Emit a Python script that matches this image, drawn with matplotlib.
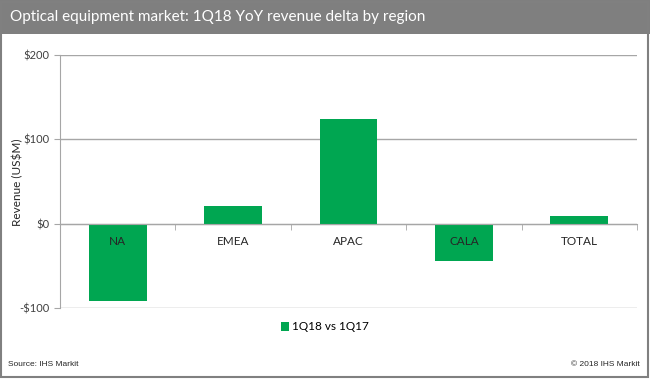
import matplotlib.pyplot as plt
from matplotlib.patches import Rectangle
from matplotlib.ticker import FuncFormatter, FixedLocator

regions = ["NA", "EMEA", "APAC", "CALA", "TOTAL"]
delta = [-92, 21, 124, -44, 9]
series_name = "1Q18 vs 1Q17"

green = "#00a651"
grey = "#a6a6a6"

fig = plt.figure(figsize=(6.5, 3.79), dpi=100)

# title bar and border
fig.patches.append(Rectangle((0, 1 - 34 / 379), 1, 34 / 379, transform=fig.transFigure,
                             facecolor="#7f7f7f", edgecolor="none", zorder=0))
fig.patches.append(Rectangle((0.002, 0.004), 0.995, 0.99, transform=fig.transFigure,
                             facecolor="none", edgecolor="#808080", lw=1.5, zorder=1))
fig.text(10 / 650, 1 - 17 / 379, "Optical equipment market: 1Q18 YoY revenue delta by region",
         color="white", fontsize=11, family="Lato", va="center", ha="left")

ax = fig.add_axes([60 / 650, 1 - 308 / 379, 577 / 650, 253 / 379])
x = range(len(regions))
ax.bar(x, delta, width=0.5, color=green, label=series_name, zorder=3)

ax.set_ylim(-100, 200)
ax.set_xlim(-0.5, len(regions) - 0.5)
ax.set_yticks([-100, 0, 100, 200])
ax.yaxis.set_major_formatter(FuncFormatter(lambda v, p: ("-$%d" % abs(v)) if v < 0 else "$%d" % v))
ax.grid(axis="y", color=grey, lw=1, zorder=0)
ax.tick_params(axis="y", length=4, color=grey, labelsize=8, labelcolor="#404040")
for lab in ax.get_yticklabels():
    lab.set_family("Lato")

ax.spines["bottom"].set_position(("data", 0))
ax.spines["bottom"].set_color(grey)
ax.spines["bottom"].set_zorder(4)
ax.spines["left"].set_color(grey)
ax.spines["top"].set_visible(False)
ax.spines["right"].set_visible(False)
ax.set_xticks(list(x))
ax.set_xticklabels(regions, fontsize=8.5, family="Lato", color="#262626")
ax.tick_params(axis="x", which="major", length=0, pad=9)
ax.xaxis.set_minor_locator(FixedLocator([i + 0.5 for i in range(-1, len(regions))]))
ax.tick_params(axis="x", which="minor", length=4, color=grey)
ax.xaxis.set_zorder(5)

fig.text(18 / 650, 1 - 182 / 379, "Revenue (US$M)", fontsize=8.5, family="Lato",
         color="#262626", rotation=90, va="center", ha="center")

fig.legend(loc="center", bbox_to_anchor=(0.5, 1 - 327 / 379), frameon=False,
           prop={"family": "Lato", "size": 8.5}, handlelength=0.7, handleheight=0.7,
           handletextpad=0.3)

fig.text(8 / 650, 1 - 364 / 379, "Source: IHS Markit", fontsize=6, family="Liberation Sans",
         va="center", color="#262626")
fig.text(640 / 650, 1 - 364 / 379, "\u00a9 2018 IHS Markit", fontsize=6, family="Liberation Sans",
         va="center", ha="right", color="#262626")

fig.savefig("out.png", dpi=100)
